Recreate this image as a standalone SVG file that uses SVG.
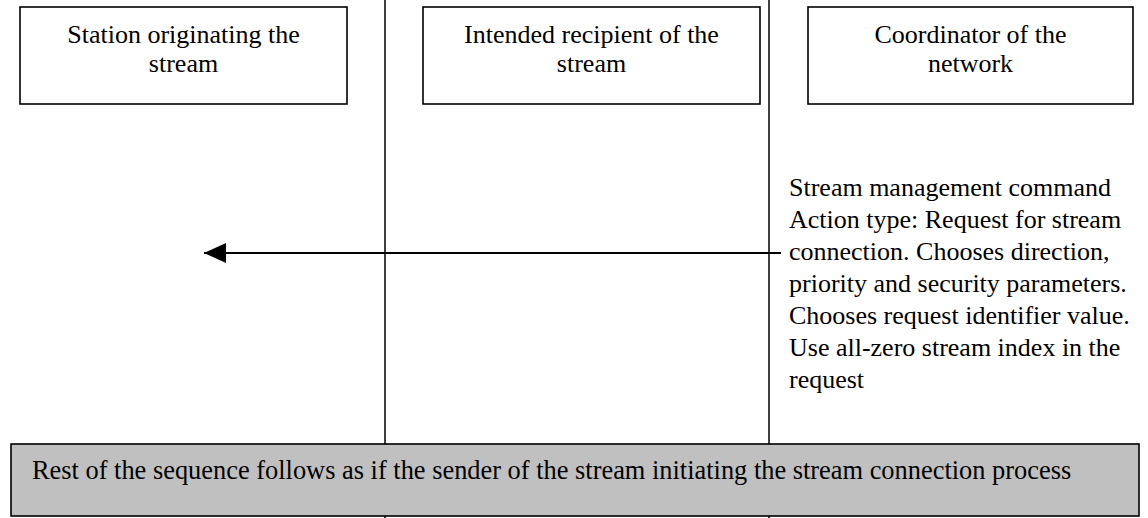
<svg xmlns="http://www.w3.org/2000/svg" width="1148" height="518" viewBox="0 0 1148 518">
  <style>
    .box { fill: #ffffff; stroke: #000000; stroke-width: 1.6; }
    .bar { fill: #c0c0c0; stroke: #000000; stroke-width: 1.6; }
    .life { stroke: #000000; stroke-width: 1.5; fill: none; }
    .msg { stroke: #000000; stroke-width: 1.8; fill: none; }
    .t { font-family: "Liberation Serif", "Times New Roman", serif; font-size: 26px; fill: #000000; }
    .c { text-anchor: middle; }
  </style>
  <defs>
    <marker id="head" markerWidth="22" markerHeight="20" refX="22" refY="10" orient="auto" markerUnits="userSpaceOnUse">
      <path d="M0,0 L22,10 L0,20 Z" fill="#000000"/>
    </marker>
  </defs>
  <rect width="1148" height="518" fill="#ffffff"/>

  <!-- lifelines and message -->
  <g id="connectors">
    <line class="life" x1="385" y1="0" x2="385" y2="518"/>
    <line class="life" x1="769" y1="0" x2="769" y2="518"/>
    <line class="msg" x1="781" y1="253" x2="204" y2="253" marker-end="url(#head)"/>
  </g>

  <g id="station">
    <rect class="box" x="20" y="7" width="327" height="97"/>
    <text class="t c" x="183.5" y="43">Station originating the</text>
    <text class="t c" x="183.5" y="72">stream</text>
  </g>

  <g id="recipient">
    <rect class="box" x="423" y="7" width="337" height="97"/>
    <text class="t c" x="591.5" y="43">Intended recipient of the</text>
    <text class="t c" x="591.5" y="72">stream</text>
  </g>

  <g id="coordinator">
    <rect class="box" x="808" y="7" width="325" height="97"/>
    <text class="t c" x="970.5" y="43">Coordinator of the</text>
    <text class="t c" x="970.5" y="72">network</text>
  </g>

  <g id="message-label">
    <text class="t" x="789" y="196">Stream management command</text>
    <text class="t" x="789" y="228">Action type: Request for stream</text>
    <text class="t" x="789" y="260">connection. Chooses direction,</text>
    <text class="t" x="789" y="292">priority and security parameters.</text>
    <text class="t" x="789" y="324">Chooses request identifier value.</text>
    <text class="t" x="789" y="356">Use all-zero stream index in the</text>
    <text class="t" x="789" y="388">request</text>
  </g>

  <g id="rest-of-sequence">
    <rect class="bar" x="11" y="444" width="1128" height="72"/>
    <text class="t" x="32" y="479" style="font-size:26.4px">Rest of the sequence follows as if the sender of the stream initiating the stream connection process</text>
  </g>
</svg>
